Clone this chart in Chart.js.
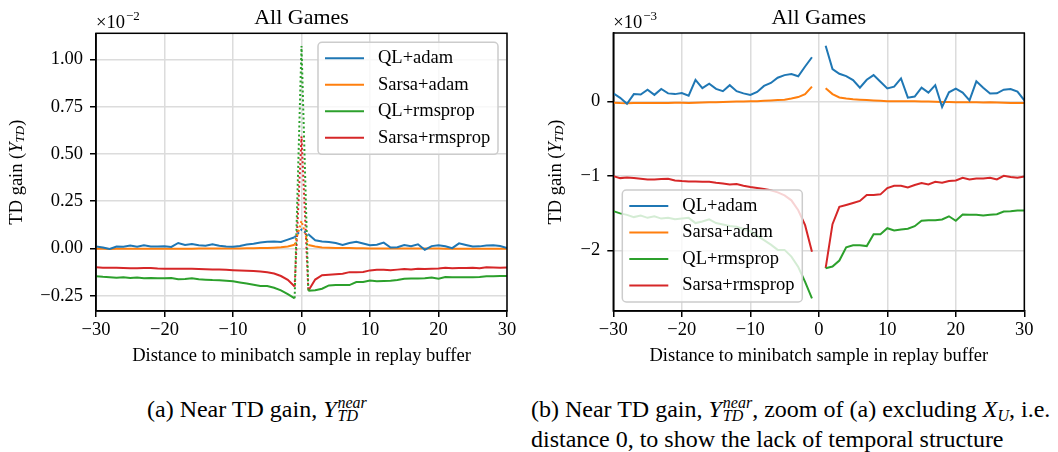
<!DOCTYPE html>
<html>
<head>
<meta charset="utf-8">
<script src="https://cdn.jsdelivr.net/npm/chart.js@4.4.0/dist/chart.umd.min.js"></script>
<style>
  body { margin: 0; background: #fff; }
  #wrap { position: relative; width: 1058px; height: 452px; background: #fff; overflow: hidden; }
  .panel { position: absolute; top: 0; height: 370px; }
  .cap { position: absolute; font-family: 'Liberation Serif', 'Times New Roman', serif; font-size: 24px; line-height: 30px; height: 30px; white-space: nowrap; color: #000; }
  .m { font-style: italic; }
  .ss { display: inline-flex; flex-direction: column; font-size: 16px; line-height: 13px; font-style: italic; vertical-align: 9px; margin-left: 1px; }
  .sub { font-size: 16px; font-style: italic; vertical-align: -4px; line-height: 0; }
</style>
</head>
<body>
<div id="wrap">
  <div class="panel" style="left:0;width:530px"><canvas id="graficoA"></canvas></div>
  <div class="panel" style="left:530px;width:528px"><canvas id="graficoB"></canvas></div>
  <div class="cap" style="left:147px;top:394px">(a) Near TD gain, <span class="m">Y</span><span class="ss"><span>near</span><span>TD</span></span></div>
  <div class="cap" style="left:531px;top:394px">(b) Near TD gain, <span class="m">Y</span><span class="ss"><span>near</span><span>TD</span></span>, zoom of (a) excluding <span class="m">X</span><span class="sub">U</span>, i.e.</div>
  <div class="cap" style="left:531px;top:424px">distance 0, to show the lack of temporal structure</div>
</div>
<script>
// distance to the minibatch sample (x axis)
const distances = [-30,-29,-28,-27,-26,-25,-24,-23,-22,-21,-20,-19,-18,-17,-16,-15,-14,-13,-12,-11,-10,-9,-8,-7,-6,-5,-4,-3,-2,-1,0,
                   1,2,3,4,5,6,7,8,9,10,11,12,13,14,15,16,17,18,19,20,21,22,23,24,25,26,27,28,29,30];

// TD gain per distance, in units of 1e-3 (index 30 is distance 0)
const qlAdam = [0.11,0.05,-0.03,0.10,0.095,0.16,0.09,0.17,0.11,0.10,0.115,0.08,0.29,0.18,0.24,0.17,0.14,0.22,0.14,0.11,0.09,0.13,0.21,0.25,0.32,0.355,0.37,0.34,0.47,0.595,
                1.0,
                0.75,0.435,0.373,0.342,0.288,0.187,0.293,0.355,0.267,0.177,0.2,0.311,0.053,0.067,0.187,0.12,0.221,-0.072,0.124,0.173,0.12,0.017,0.271,0.187,0.107,0.111,0.16,0.169,0.133,0.017];
const sarsaAdam = [-0.015,-0.02,-0.022,-0.02,-0.02,-0.018,-0.02,-0.02,-0.018,-0.015,-0.015,-0.018,-0.015,-0.012,-0.01,-0.008,-0.005,-0.003,0,0.002,0.003,0.005,0.01,0.015,0.02,0.025,0.04,0.06,0.10,0.20,
                   1.46,
                   0.18,0.10,0.055,0.04,0.03,0.025,0.02,0.015,0.01,0.005,0.005,0.005,0.005,0.003,0,0,-0.003,-0.005,-0.005,-0.008,-0.01,-0.01,-0.01,-0.012,-0.01,-0.012,-0.015,-0.018,-0.02,-0.02];
const qlRmsprop = [-1.47,-1.50,-1.52,-1.55,-1.53,-1.56,-1.54,-1.57,-1.56,-1.58,-1.57,-1.56,-1.63,-1.61,-1.58,-1.63,-1.65,-1.67,-1.68,-1.71,-1.74,-1.80,-1.86,-1.92,-1.99,-1.99,-2.08,-2.22,-2.42,-2.64,
                   10.72,
                   -2.236,-2.214,-2.133,-1.956,-1.929,-1.929,-1.939,-1.779,-1.779,-1.699,-1.729,-1.716,-1.707,-1.672,-1.60,-1.591,-1.591,-1.582,-1.539,-1.60,-1.516,-1.52,-1.52,-1.529,-1.52,-1.511,-1.476,-1.471,-1.462,-1.462];
const sarsaRmsprop = [-1.0,-1.027,-1.018,-1.027,-1.036,-1.045,-1.045,-1.04,-1.036,-1.058,-1.067,-1.071,-1.071,-1.076,-1.076,-1.089,-1.098,-1.112,-1.107,-1.129,-1.147,-1.16,-1.174,-1.191,-1.218,-1.258,-1.325,-1.458,-1.658,-2.014,
                      5.94,
                      -2.236,-1.645,-1.413,-1.387,-1.36,-1.333,-1.253,-1.253,-1.245,-1.16,-1.129,-1.129,-1.152,-1.12,-1.093,-1.112,-1.076,-1.089,-1.067,-1.058,-1.022,-1.045,-1.032,-1.032,-1.022,-1.045,-0.996,-1.013,-1.022,-1.005];

const seriesNames = ['QL+adam', 'Sarsa+adam', 'QL+rmsprop', 'Sarsa+rmsprop'];
const seriesColors = ['#1f77b4', '#ff7f0e', '#2ca02c', '#d62728'];

// tick labels
const xTicks = [-30, -20, -10, 0, 10, 20, 30];
const yTicksA = [-0.25, 0, 0.25, 0.5, 0.75, 1.0];
const yTicksB = [-2, -1, 0];

const FONT = "'Liberation Serif', 'Times New Roman', serif";
const MINUS = '\u2212';

// converts a series to points; scale changes units, skipZero leaves a gap at distance 0
function toPoints(values, scale, skipZero) {
    return values.map((v, i) => ({
        x: distances[i],
        y: (skipZero && distances[i] === 0) ? null : v * scale
    }));
}

// draws title, offset text, axis titles, legend and the top/right spines
const figureText = {
    id: 'figureText',
    afterDraw(chart, args, opts) {
        const ctx = chart.ctx;
        const a = chart.chartArea;
        ctx.save();

        // legend (semi-transparent box like matplotlib)
        const lw = 180, lh = 112;
        const lx = opts.legendCorner === 'ur' ? a.right - 9 - lw : a.left + 9;
        const ly = opts.legendCorner === 'ur' ? a.top + 9 : a.bottom - 9 - lh;
        ctx.beginPath();
        ctx.roundRect(lx, ly, lw, lh, 4);
        ctx.fillStyle = 'rgba(255,255,255,0.8)';
        ctx.fill();
        ctx.strokeStyle = '#cccccc';
        ctx.lineWidth = 1.5;
        ctx.stroke();
        ctx.font = '18.5px ' + FONT;
        ctx.textBaseline = 'middle';
        ctx.textAlign = 'left';
        chart.data.datasets.forEach((ds, i) => {
            const y = ly + 16 + i * 26.5;
            ctx.strokeStyle = ds.borderColor;
            ctx.lineWidth = 2;
            ctx.beginPath();
            ctx.moveTo(lx + 7, y);
            ctx.lineTo(lx + 46, y);
            ctx.stroke();
            ctx.fillStyle = '#000';
            ctx.fillText(ds.label, lx + 60, y);
        });

        // spines
        ctx.strokeStyle = '#000';
        ctx.lineWidth = 1.5;
        ctx.strokeRect(a.left, a.top, a.right - a.left, a.bottom - a.top);

        // title
        ctx.fillStyle = '#000';
        ctx.textAlign = 'center';
        ctx.textBaseline = 'alphabetic';
        ctx.font = '22px ' + FONT;
        ctx.fillText(opts.title, (a.left + a.right) / 2, 24);

        // offset text ×10^n
        ctx.textAlign = 'left';
        ctx.font = '18.5px ' + FONT;
        ctx.fillText('\u00d710', a.left, 28);
        const w10 = ctx.measureText('\u00d710').width;
        ctx.font = '13px ' + FONT;
        ctx.fillText(opts.exponent, a.left + w10 + 1, 20);

        // x axis title
        ctx.textAlign = 'center';
        ctx.textBaseline = 'middle';
        ctx.font = '18.5px ' + FONT;
        ctx.fillText('Distance to minibatch sample in replay buffer', (a.left + a.right) / 2, a.bottom + 45);

        // y axis title: TD gain (Y_TD)
        const parts = [
            { t: 'TD gain (', f: '18.5px ' + FONT, dy: 0 },
            { t: 'Y', f: 'italic 18.5px ' + FONT, dy: 0 },
            { t: 'TD', f: 'italic 13px ' + FONT, dy: 4 },
            { t: ')', f: '18.5px ' + FONT, dy: 0 }
        ];
        let total = 0;
        parts.forEach(p => { ctx.font = p.f; p.w = ctx.measureText(p.t).width; total += p.w; });
        ctx.translate(opts.yTitleX, (a.top + a.bottom) / 2);
        ctx.rotate(-Math.PI / 2);
        ctx.textAlign = 'left';
        let cx = -total / 2;
        parts.forEach(p => {
            ctx.font = p.f;
            ctx.fillText(p.t, cx, p.dy);
            cx += p.w;
        });
        ctx.restore();
    }
};

function makeChart(canvasId, scale, skipZero, yMin, yMax, yTicks, yFormat, yAxisWidth, padRight, padTop, opts) {
    const sets = [qlAdam, sarsaAdam, qlRmsprop, sarsaRmsprop].map((vals, i) => ({
        label: seriesNames[i],
        data: toPoints(vals, scale, skipZero),
        borderColor: seriesColors[i],
        backgroundColor: seriesColors[i],
        borderWidth: 2,
        pointRadius: 0,
        tension: 0,
        fill: false,
        segment: skipZero ? undefined : {
            // the jump through distance 0 is dotted
            borderDash: c => (distances[c.p0DataIndex] === -1 || distances[c.p0DataIndex] === 0) ? [2, 2.5] : undefined
        }
    }));

    return new Chart(document.getElementById(canvasId).getContext('2d'), {
        type: 'line',
        data: { datasets: sets },
        options: {
            responsive: true,
            maintainAspectRatio: false,
            animation: false,
            devicePixelRatio: 1,
            layout: { padding: { left: 0, right: padRight, top: padTop, bottom: 0 } },
            plugins: {
                legend: { display: false },
                tooltip: { enabled: false },
                figureText: opts
            },
            scales: {
                x: {
                    type: 'linear',
                    min: -30,
                    max: 30,
                    afterBuildTicks: s => { s.ticks = xTicks.map(v => ({ value: v })); },
                    afterFit: s => { s.height = 59; },
                    grid: { color: '#dcdcdc', lineWidth: 1.5, tickColor: '#000', tickLength: 6, tickWidth: 1.5 },
                    border: { display: true, color: '#000', width: 1.5 },
                    ticks: {
                        padding: 2,
                        color: '#000',
                        font: { family: FONT, size: 18.5 },
                        maxRotation: 0,
                        callback: v => String(v).replace('-', MINUS)
                    }
                },
                y: {
                    type: 'linear',
                    min: yMin,
                    max: yMax,
                    afterBuildTicks: s => { s.ticks = yTicks.map(v => ({ value: v })); },
                    afterFit: s => { s.width = yAxisWidth; },
                    grid: { color: '#dcdcdc', lineWidth: 1.5, tickColor: '#000', tickLength: 6, tickWidth: 1.5 },
                    border: { display: true, color: '#000', width: 1.5 },
                    ticks: {
                        padding: 7,
                        color: '#000',
                        font: { family: FONT, size: 18.5 },
                        callback: yFormat
                    }
                }
            }
        },
        plugins: [figureText]
    });
}

// (a) full view, in units of 1e-2
makeChart('graficoA', 0.1, false, -0.331, 1.139, yTicksA,
    v => v.toFixed(2).replace('-', MINUS), 96, 23, 33.3,
    { title: 'All Games', exponent: MINUS + '2', yTitleX: 17, legendCorner: 'ur' });

// (b) zoom without distance 0, in units of 1e-3
makeChart('graficoB', 1, true, -2.81, 0.92, yTicksB,
    v => String(v).replace('-', MINUS), 83.3, 33.7, 33,
    { title: 'All Games', exponent: MINUS + '3', yTitleX: 26, legendCorner: 'll' });
</script>
</body>
</html>
